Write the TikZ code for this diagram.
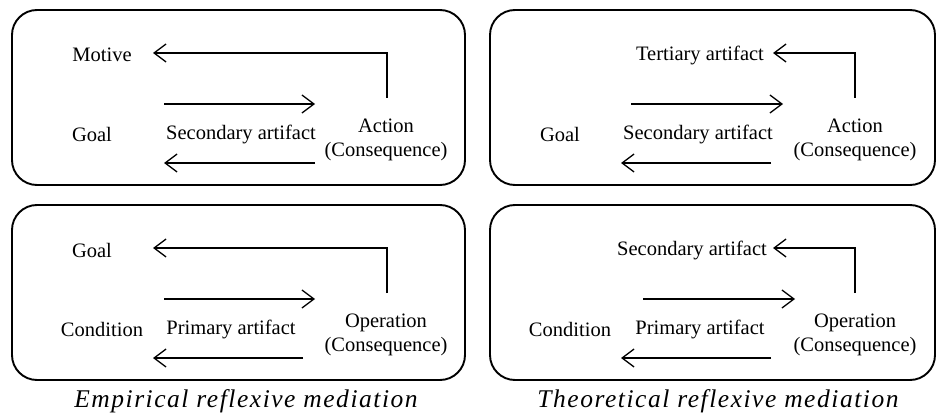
\documentclass[tikz,border=0pt]{standalone}
\usepackage{fontspec}
\setmainfont{Liberation Serif}
\newfontfamily\capfont[LetterSpace=6]{Liberation Serif}
\usetikzlibrary{arrows.meta}

\begin{document}
\begin{tikzpicture}[x=1pt, y=-1pt,
        panel/.style={draw, line width=1.9pt, rounded corners=25pt},
        lbl/.style={font=\fontsize{20.5}{23.5}\selectfont, align=center, inner sep=2pt},
        figcap/.style={font=\capfont\fontsize{25.5}{28}\selectfont\itshape},
        arr/.style={line width=1.3pt, -{Straight Barb[length=12pt, width=18pt, line width=1.3pt]}}]
    \useasboundingbox (0,0) rectangle (938,417);

    % the four panels
    \draw[panel] (12,10) rectangle (465,185);
    \draw[panel] (490,10) rectangle (935,185);
    \draw[panel] (12,205) rectangle (465,380);
    \draw[panel] (490,205) rectangle (935,380);

    % empirical, action level
    \node (mot1)[lbl] at (102, 55) {Motive};
    \node (goal1)[lbl] at (92, 134) {Goal};
    \node (sec1)[lbl] at (241, 134) {Secondary artifact};
    \node (act1)[lbl] at (386, 140) {Action\\(Consequence)};
    \coordinate (up1) at (387, 98);
    \coordinate (tip1) at (153, 53);
    \coordinate (fs1) at (164, 104);
    \coordinate (fe1) at (315, 104);
    \coordinate (bs1) at (315, 163);
    \coordinate (be1) at (164, 163);

    % theoretical, action level
    \node (ter2)[lbl] at (700, 55) {Tertiary artifact};
    \node (goal2)[lbl] at (560, 134) {Goal};
    \node (sec2)[lbl] at (698, 134) {Secondary artifact};
    \node (act2)[lbl] at (855, 140) {Action\\(Consequence)};
    \coordinate (up2) at (855, 98);
    \coordinate (tip2) at (773, 53);
    \coordinate (fs2) at (631, 104);
    \coordinate (fe2) at (783, 104);
    \coordinate (bs2) at (771, 163);
    \coordinate (be2) at (621, 163);

    % empirical, operation level
    \node (goal3)[lbl] at (92, 250) {Goal};
    \node (cond3)[lbl] at (102, 329) {Condition};
    \node (prim3)[lbl] at (231, 329) {Primary artifact};
    \node (op3)[lbl] at (386, 335) {Operation\\(Consequence)};
    \coordinate (up3) at (387, 293);
    \coordinate (tip3) at (153, 248);
    \coordinate (fs3) at (164, 299);
    \coordinate (fe3) at (315, 299);
    \coordinate (bs3) at (303, 358);
    \coordinate (be3) at (153, 358);

    % theoretical, operation level
    \node (sec4)[lbl] at (692, 250) {Secondary artifact};
    \node (cond4)[lbl] at (570, 329) {Condition};
    \node (prim4)[lbl] at (700, 329) {Primary artifact};
    \node (op4)[lbl] at (855, 335) {Operation\\(Consequence)};
    \coordinate (up4) at (855, 293);
    \coordinate (tip4) at (773, 248);
    \coordinate (fs4) at (643, 299);
    \coordinate (fe4) at (795, 299);
    \coordinate (bs4) at (771, 358);
    \coordinate (be4) at (621, 358);

    \draw[arr] (up1) |- (tip1);
    \draw[arr] (fs1) -- (fe1);
    \draw[arr] (bs1) -- (be1);
    \draw[arr] (up2) |- (tip2);
    \draw[arr] (fs2) -- (fe2);
    \draw[arr] (bs2) -- (be2);
    \draw[arr] (up3) |- (tip3);
    \draw[arr] (fs3) -- (fe3);
    \draw[arr] (bs3) -- (be3);
    \draw[arr] (up4) |- (tip4);
    \draw[arr] (fs4) -- (fe4);
    \draw[arr] (bs4) -- (be4);

    % captions
    \node (cap1)[figcap] at (246, 401) {Empirical reflexive mediation};
    \node (cap2)[figcap] at (718, 401) {Theoretical reflexive mediation};
\end{tikzpicture}
\end{document}
